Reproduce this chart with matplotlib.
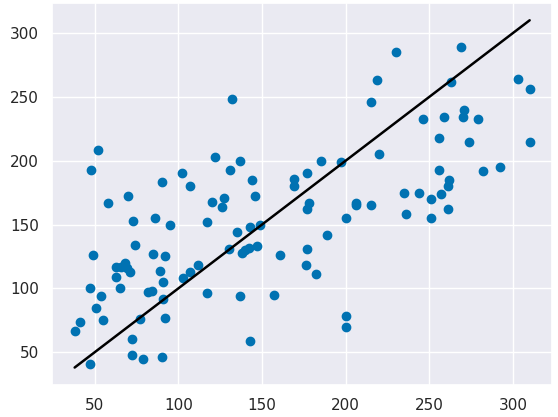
import matplotlib
matplotlib.use("Agg")
import matplotlib.pyplot as plt
import seaborn as sns
import numpy as np

sns.set_theme(style="darkgrid")

actual = [38,41,47,47,48,49,51,52,54,55,58,63,63,65,66,68,69,70,71,72,72,73,74,77,79,82,84,85,86,89,90,90,91,91,92,92,95,102,103,107,107,112,117,117,120,122,126,127,130,131,132,135,137,137,138,140,142,143,143,144,146,147,149,157,161,169,169,176,177,177,177,178,182,185,189,197,200,200,200,206,206,215,215,219,220,230,235,236,244,246,251,251,256,256,257,259,261,261,262,263,269,270,271,274,279,282,292,303,310,310]
predicted = [67,74,41,100,193,126,85,208,94,75,167,109,117,100,117,120,116,172,113,60,48,153,134,76,45,97,98,127,155,114,46,183,105,92,77,125,150,190,108,113,180,118,152,96,168,203,164,171,131,193,248,144,94,200,128,130,132,59,148,185,172,133,150,95,126,180,186,118,131,162,190,167,111,200,142,199,70,78,155,167,165,165,246,263,205,285,175,158,175,233,155,170,218,193,174,234,162,180,185,262,289,234,240,215,233,192,195,264,215,256]

fig, ax = plt.subplots(figsize=(5.58, 4.17), dpi=100)
fig.subplots_adjust(left=0.093, right=0.99, top=0.993, bottom=0.077)
ax.scatter(actual, predicted, color="#0072B2")
x = np.array(actual)
ax.plot(x, x, color="black", lw=1.8)
fig.savefig("out.png")
